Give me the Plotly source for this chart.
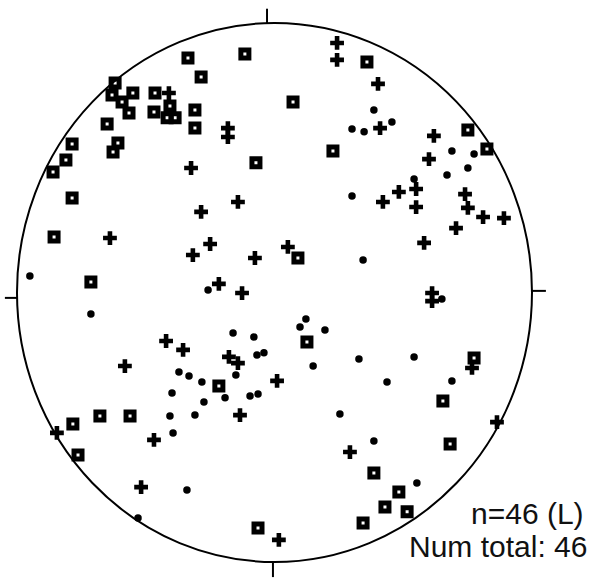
import plotly.graph_objects as go

# Projected coordinates (unit circle = primitive) for each population
sq_x = [-0.336, -0.115, -0.285, -0.619, -0.631, -0.592, -0.550, -0.565, -0.464, -0.468,
        -0.406, -0.417, -0.386, -0.650, -0.608, -0.627, -0.309, -0.309, -0.786, -0.810,
        -0.860, -0.786, -0.856, -0.713, 0.072, -0.072, 0.359, 0.227, 0.751, 0.825,
        0.091, -0.216, -0.783, -0.678, -0.561, -0.763, -0.064, 0.126, 0.775, 0.654,
        0.682, 0.386, 0.483, 0.429, 0.515, 0.344]
sq_y = [0.870, 0.885, 0.800, 0.777, 0.733, 0.707, 0.740, 0.666, 0.740, 0.670,
        0.692, 0.648, 0.648, 0.625, 0.555, 0.521, 0.677, 0.610, 0.551, 0.492,
        0.447, 0.351, 0.206, 0.039, 0.707, 0.481, 0.855, 0.525, 0.603, 0.532,
        0.128, -0.347, -0.488, -0.458, -0.458, -0.603, -0.874, -0.184, -0.243, -0.403,
        -0.562, -0.670, -0.740, -0.796, -0.814, -0.855]

plus_x = [0.243, 0.243, 0.402, 0.410, 0.619, 0.600, -0.181, -0.181, -0.324, -0.142,
          -0.285, -0.639, -0.250, -0.317, -0.076, 0.052, -0.216, -0.126, 0.483, 0.550,
          0.550, 0.421, 0.740, 0.751, 0.810, 0.891, 0.705, 0.581, 0.612, 0.612,
          -0.421, -0.355, -0.177, -0.142, -0.581, 0.010, -0.134, -0.468, -0.518, 0.017,
          -0.845, 0.293, 0.864, 0.767, -0.410]
plus_y = [0.926, 0.863, 0.774, 0.610, 0.581, 0.495, 0.610, 0.577, 0.462, 0.336,
          0.299, 0.202, 0.180, 0.139, 0.128, 0.169, 0.032, -0.002, 0.373, 0.384,
          0.317, 0.336, 0.365, 0.314, 0.280, 0.276, 0.239, 0.184, -0.002, -0.032,
          -0.180, -0.213, -0.239, -0.262, -0.273, -0.328, -0.455, -0.547, -0.722, -0.918,
          -0.521, -0.592, -0.481, -0.280, 0.740]

dot_x = [-0.950, -0.258, 0.386, 0.301, 0.348, 0.456, 0.689, 0.775, 0.751, 0.670,
         0.542, 0.301, 0.344, 0.650, -0.713, -0.161, -0.080, -0.068, -0.041, -0.371,
         -0.332, -0.282, -0.150, -0.398, -0.192, -0.274, -0.095, -0.064, -0.406, -0.309,
         -0.394, -0.340, -0.530, 0.122, 0.099, 0.196, 0.150, 0.328, 0.542, 0.437,
         0.689, 0.254, 0.386, 0.553]
dot_y = [0.061, 0.009, 0.677, 0.607, 0.596, 0.633, 0.525, 0.514, 0.462, 0.436,
         0.421, 0.358, 0.121, -0.024, -0.080, -0.150, -0.165, -0.232, -0.224, -0.295,
         -0.310, -0.332, -0.306, -0.373, -0.391, -0.406, -0.384, -0.377, -0.458, -0.455,
         -0.521, -0.733, -0.837, -0.098, -0.128, -0.139, -0.273, -0.247, -0.239, -0.332,
         -0.328, -0.451, -0.551, -0.707]

label_n = "n=46 (L)"
label_total = "Num total: 46"

fig = go.Figure()
fig.add_trace(go.Scatter(x=dot_x, y=dot_y, mode="markers",
                         marker=dict(symbol="circle", size=7.5, color="black"),
                         showlegend=False, hoverinfo="skip"))
fig.add_trace(go.Scatter(x=plus_x, y=plus_y, mode="markers",
                         marker=dict(symbol="cross", size=11.5, color="black", line=dict(width=0)),
                         showlegend=False, hoverinfo="skip"))
fig.add_trace(go.Scatter(x=sq_x, y=sq_y, mode="markers",
                         marker=dict(symbol="square-open", size=8, color="black",
                                     line=dict(width=5, color="black")),
                         showlegend=False, hoverinfo="skip"))

# primitive circle
fig.add_shape(type="circle", xref="x", yref="y", x0=-1, x1=1, y0=-1, y1=1,
              line=dict(color="black", width=2))
# N, S, W, E ticks
for (x0, y0, x1, y1) in [(-0.029, 1.0, -0.029, 1.053), (-0.006, -1.0, -0.006, -1.056),
                         (-1.0, -0.020, -1.047, -0.020), (1.0, 0.006, 1.054, 0.006)]:
    fig.add_shape(type="line", xref="x", yref="y", x0=x0, y0=y0, x1=x1, y1=y1,
                  line=dict(color="black", width=2))

fig.add_annotation(text=label_n, xref="paper", yref="paper", x=586 / 594, y=1 - 513 / 582,
                   xanchor="right", yanchor="middle", showarrow=False,
                   font=dict(family="Liberation Sans, Arial", size=30, color="#111"))
fig.add_annotation(text=label_total, xref="paper", yref="paper", x=589 / 594, y=1 - 546 / 582,
                   xanchor="right", yanchor="middle", showarrow=False,
                   font=dict(family="Liberation Sans, Arial", size=30, color="#111"))

fig.update_layout(width=594, height=582, margin=dict(l=0, r=0, t=0, b=0),
                  paper_bgcolor="white", plot_bgcolor="white",
                  xaxis=dict(range=[-1.066, 1.2408], visible=False, fixedrange=True),
                  yaxis=dict(range=[-1.0742, 1.0853], visible=False, fixedrange=True))

fig.write_html("out.html", config={"displayModeBar": False},
               post_script="document.body.style.margin='0';document.body.style.overflow='hidden';")
